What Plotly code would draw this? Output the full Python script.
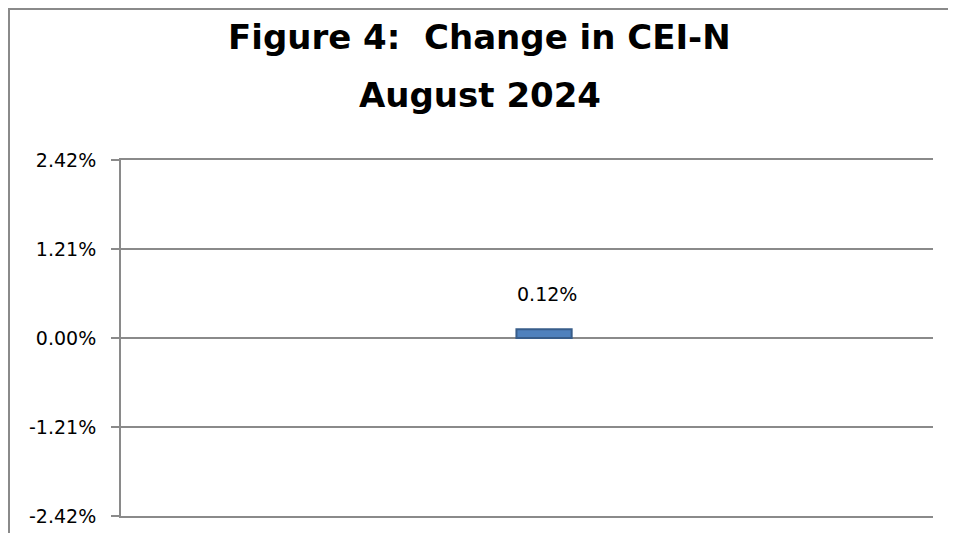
import plotly.graph_objects as go

# Chart data
categories = ["August 2024"]
changes = [0.12]  # percent
y_ticks = [-2.42, -1.21, 0.00, 1.21, 2.42]

title_lines = ["Figure 4:&nbsp; Change in CEI-N", "August 2024"]

GRAY = "#8a8a8a"
FONT = "DejaVu Sans"

fig = go.Figure()

fig.add_trace(
    go.Bar(
        x=categories,
        y=changes,
        width=0.068,
        marker=dict(color="#4f81bd", line=dict(color="#385d8a", width=2)),
        showlegend=False,
    )
)

# Data label above the bar
for cat, val in zip(categories, changes):
    fig.add_annotation(
        x=cat,
        y=val,
        text=f"{val:.2f}%",
        showarrow=False,
        xshift=3,
        yshift=35,
        font=dict(family=FONT, size=19, color="#000000"),
    )

# Two-line title, placed as annotations to control the line spacing
for text, ypos in zip(title_lines, [1.346, 1.183]):
    fig.add_annotation(
        text=text,
        xref="paper",
        yref="paper",
        x=0.442,
        y=ypos,
        xanchor="center",
        yanchor="middle",
        showarrow=False,
        font=dict(family=FONT, size=34, color="#000000", weight="bold"),
    )

fig.update_layout(
    width=940,
    height=525,
    margin=dict(l=113, r=15, t=152, b=17),
    paper_bgcolor="white",
    plot_bgcolor="white",
    xaxis=dict(
        range=[-0.521, 0.479],
        showticklabels=False,
        showgrid=False,
        zeroline=False,
        showline=True,
        mirror=True,
        linecolor=GRAY,
        linewidth=2,
        ticks="",
        automargin=False,
    ),
    yaxis=dict(
        range=[-2.42, 2.42],
        tickvals=y_ticks,
        ticktext=[f"{v:.2f}%" for v in y_ticks],
        showgrid=True,
        gridcolor=GRAY,
        gridwidth=2,
        zeroline=False,
        showline=True,
        linecolor=GRAY,
        linewidth=2,
        ticks="outside",
        ticklen=8,
        tickcolor=GRAY,
        tickwidth=2,
        ticklabelstandoff=11,
        tickfont=dict(family=FONT, size=19, color="#000000"),
        automargin=False,
    ),
)

# Chart frame (cropped on the right and bottom like the original)
fig.add_shape(
    type="rect",
    xref="paper",
    yref="paper",
    x0=-112 / 812,
    x1=1 + 60 / 812,
    y0=-60 / 356,
    y1=1 + 151 / 356,
    line=dict(color=GRAY, width=2),
    fillcolor="rgba(0,0,0,0)",
    layer="below",
)

fig.write_html("out.html")
